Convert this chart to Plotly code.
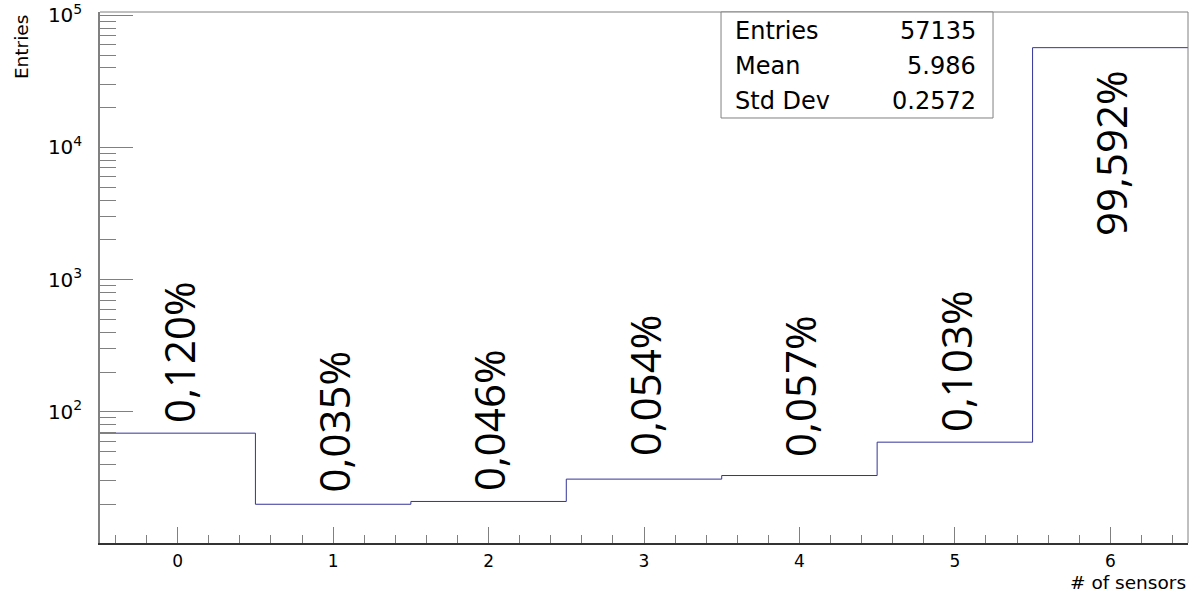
import numpy as np
import plotly.graph_objects as go

# ---- data ----
n_sensors = [0, 1, 2, 3, 4, 5, 6]
counts = [69, 20, 21, 31, 33, 59, 56902]
pct_labels = ["0,120%", "0,035%", "0,046%", "0,054%", "0,057%", "0,103%", "99,592%"]
stats_names = ["Entries", "Mean", "Std Dev"]
stats_values = ["57135", "5.986", "0.2572"]
y_tick_vals = [1e2, 1e3, 1e4, 1e5]
y_tick_text = ["10<sup>2</sup>", "10<sup>3</sup>", "10<sup>4</sup>", "10<sup>5</sup>"]

# histogram drawn with bin edges
edges = [n - 0.5 for n in n_sensors] + [n_sensors[-1] + 0.5]
step_y = counts + [counts[-1]]

AX_FONT = "DejaVu Sans"
LINE_BLUE = "#333399"
GREY = "#808080"

fig = go.Figure()
fig.add_trace(go.Scatter(
    x=edges, y=step_y, mode="lines", line=dict(shape="hv", color=LINE_BLUE, width=1),
    hoverinfo="skip", showlegend=False,
))

y_minor = [m * 10 ** e for e in range(1, 5) for m in range(2, 10)]

fig.update_layout(
    width=1190, height=594,
    margin=dict(l=100, r=2, t=12, b=51),
    paper_bgcolor="white", plot_bgcolor="white",
    font=dict(family=AX_FONT, color="black"),
    xaxis=dict(
        range=[-0.5, 6.5], showgrid=False, zeroline=False,
        showline=True, linecolor="#333333", linewidth=2,
        ticks="inside", ticklen=16, tickcolor=GREY, tickwidth=1,
        tickmode="array", tickvals=n_sensors, ticktext=[str(v) for v in n_sensors],
        tickfont=dict(size=17, family=AX_FONT), ticklabelstandoff=2,
        minor=dict(ticks="inside", ticklen=8, tickcolor=GREY, tickwidth=1, dtick=0.2, tick0=0),
    ),
    yaxis=dict(
        type="log", range=[1.008, 5.025], showgrid=False, zeroline=False,
        showline=True, linecolor=GREY, linewidth=1.5,
        ticks="inside", ticklen=33, tickcolor=GREY, tickwidth=1,
        tickmode="array", tickvals=y_tick_vals, ticktext=y_tick_text,
        tickfont=dict(size=20, family=AX_FONT), ticklabelstandoff=12,
        minor=dict(ticks="inside", ticklen=16, tickcolor=GREY, tickwidth=1,
                   tickmode="array", tickvals=y_minor),
    ),
)

shapes = [
    # frame top and right
    dict(type="line", xref="paper", yref="paper", x0=0, x1=1, y0=1, y1=1,
         line=dict(color=GREY, width=1)),
    dict(type="line", xref="paper", yref="paper", x0=1, x1=1, y0=0, y1=1,
         line=dict(color=GREY, width=1)),
    # stats box
    dict(type="rect", xref="paper", yref="paper", x0=0.5708, x1=0.8208, y0=0.8004, y1=1.0,
         line=dict(color=GREY, width=1), fillcolor="white", layer="above"),
]
fig.update_layout(shapes=shapes)

annotations = []
# stats text
row_y = [0.9642, 0.8983, 0.8324]
for name, val, yy in zip(stats_names, stats_values, row_y):
    annotations.append(dict(xref="paper", yref="paper", x=0.5818, y=yy, text=name,
                            showarrow=False, xanchor="left", yanchor="middle",
                            font=dict(size=24, family=AX_FONT, color="black")))
    annotations.append(dict(xref="paper", yref="paper", x=0.807, y=yy, text=val,
                            showarrow=False, xanchor="right", yanchor="middle",
                            font=dict(size=24, family=AX_FONT, color="black")))

# percentage labels (rotated) above / inside the bars
label_shift = [8, 10, 8, 21, 17, 8, -20]
for n, c, lab, sh in zip(n_sensors, counts, pct_labels, label_shift):
    annotations.append(dict(
        x=n, y=np.log10(c), xref="x", yref="y", text=lab, showarrow=False,
        textangle=-90, xanchor="center", yanchor="bottom" if sh > 0 else "top",
        yshift=sh, font=dict(size=42, family="Open Sans", color="black"),
    ))

# axis titles
annotations.append(dict(xref="paper", yref="paper", x=-0.0726, y=0.998, text="Entries",
                        textangle=-90, showarrow=False, xanchor="center", yanchor="top",
                        font=dict(size=18.5, family=AX_FONT, color="black")))
annotations.append(dict(xref="paper", yref="paper", x=1.0, y=-0.0753, text="# of sensors",
                        showarrow=False, xanchor="right", yanchor="middle",
                        font=dict(size=18.5, family=AX_FONT, color="black")))

fig.update_layout(annotations=annotations)

fig.write_html("out.html")
